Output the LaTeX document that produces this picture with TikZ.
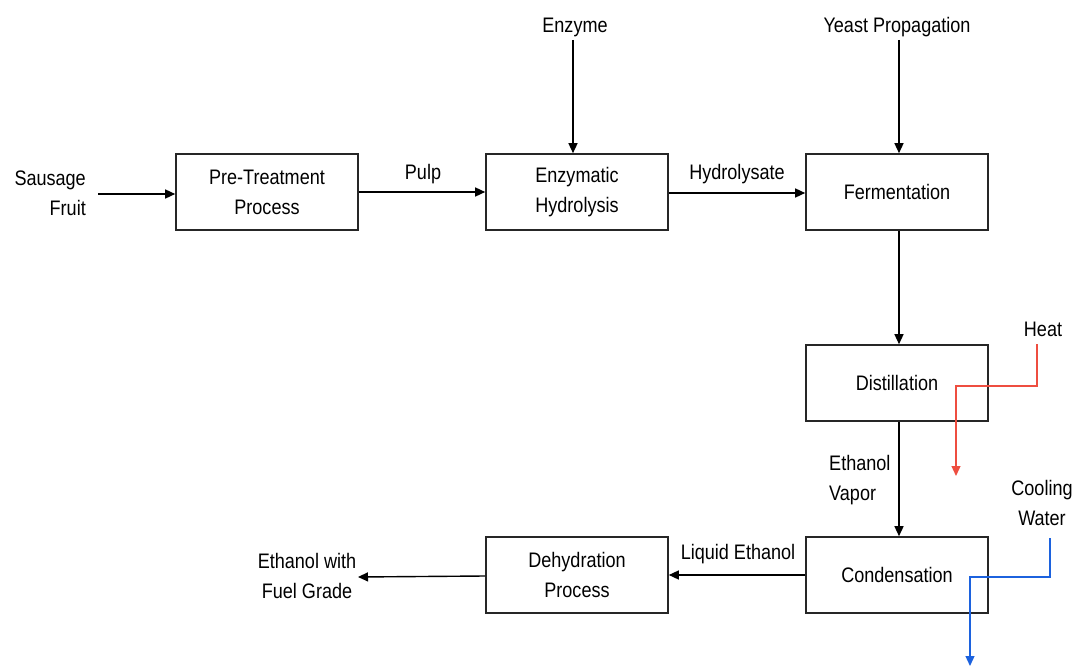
\documentclass[tikz,border=0pt]{standalone}
\usepackage{fontspec}
\setmainfont[FakeStretch=0.86]{Liberation Sans}
\usetikzlibrary{arrows.meta}
\definecolor{heatred}{RGB}{238,78,64}
\definecolor{coolblue}{RGB}{28,98,222}
\begin{document}
\begin{tikzpicture}[x=1pt,y=-1pt,
  font=\fontsize{21}{30}\selectfont,
  proc/.style={draw=black!85,line width=1.6pt,minimum width=182pt,minimum height=76pt,align=center,inner sep=0pt},
  lbl/.style={inner sep=0pt,align=center},
  flow/.style={line width=1.4pt,-{Triangle[length=10pt,width=9pt]}},
  hflow/.style={flow,draw=heatred,line width=1.3pt},
  cflow/.style={flow,draw=coolblue,line width=1.3pt}]
\useasboundingbox (0,0) rectangle (1077,666);
% process boxes
\node[proc] (pre) at (267,192) {Pre-Treatment\\Process};
\node[proc] (enz) at (577,192) {Enzymatic\\Hydrolysis};
\node[proc] (fer) at (897,192) {Fermentation};
\node[proc] (dis) at (897,383) {Distillation};
\node[proc] (con) at (897,575) {Condensation};
\node[proc] (deh) at (577,575) {Dehydration\\Process};
% labels
\node[lbl,align=right,anchor=east] (fruit) at (86,193) {Sausage\\Fruit};
\node[lbl] (pulp) at (423,174) {Pulp};
\node[lbl] (enzyme) at (575,27) {Enzyme};
\node[lbl] (yeast) at (897,27) {Yeast Propagation};
\node[lbl] (hyd) at (737,174) {Hydrolysate};
\node[lbl,align=left,anchor=west] (vap) at (829,480) {Ethanol\\Vapor};
\node[lbl] (liq) at (738,554) {Liquid Ethanol};
\node[lbl] (prod) at (307,576) {Ethanol with\\Fuel Grade};
\node[lbl] (heat) at (1043,329) {Heat};
\node[lbl] (cw) at (1042,503) {Cooling\\Water};
% coordinates
\coordinate (fruitend) at (98,194);
\coordinate (heatend) at (956,476);
\coordinate (cwend) at (970,666);
% connectors
\draw[flow] (fruitend) -- (fruitend -| pre.west);
\draw[flow] (pre.east |- 0,192) -- (enz.west |- 0,192);
\draw[flow] (enz.east |- 0,193) -- (fer.west |- 0,193);
\draw[flow] (573,40) -- (enz.north -| 573,0);
\draw[flow] (899,40) -- (fer.north -| 899,0);
\draw[flow] (fer.south -| 899,0) -- (dis.north -| 899,0);
\draw[flow] (dis.south -| 899,0) -- (con.north -| 899,0);
\draw[flow] (con.west) -- (deh.east);
\draw[flow] (deh.west |- 0,576) -- (358,577);
\draw[hflow] (1037,344) -- (1037,386) -- (956,386) -- (heatend);
\draw[cflow] (1050,538) -- (1050,577) -- (970,577) -- (cwend);
\end{tikzpicture}
\end{document}
